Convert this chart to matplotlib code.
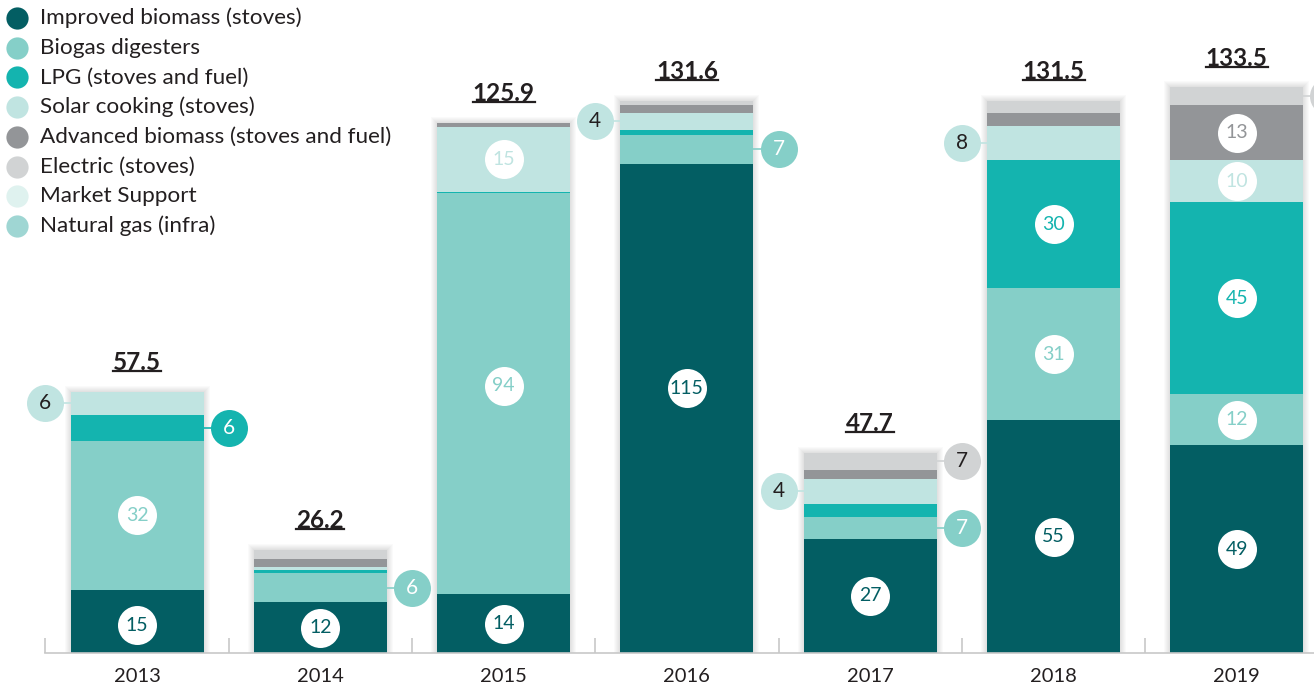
import matplotlib
matplotlib.use('Agg')
import matplotlib.pyplot as plt
import matplotlib.transforms as mtransforms
from matplotlib.lines import Line2D
import numpy as np

# ---------------- data ----------------
years = ['2013', '2014', '2015', '2016', '2017', '2018', '2019']
series_names = ['Improved biomass (stoves)', 'Biogas digesters', 'LPG (stoves and fuel)',
                'Solar cooking (stoves)', 'Advanced biomass (stoves and fuel)',
                'Electric (stoves)', 'Market Support', 'Natural gas (infra)']
improved = [15.0, 12.1, 14.0, 116.2, 27.1, 55.3, 49.4]
biogas = [35.4, 6.9, 95.2, 6.9, 5.2, 31.4, 12.1]
lpg = [6.2, 0.6, 0.4, 1.2, 3.1, 30.4, 45.6]
solar = [5.5, 0.9, 15.4, 4.0, 6.0, 8.1, 10.0]
advanced = [0.0, 1.9, 1.0, 1.9, 2.1, 3.1, 13.0]
electric = [0.0, 2.1, 0.0, 1.0, 4.1, 2.9, 4.3]
market = [0, 0, 0, 0, 0, 0, 0]
natgas = [0, 0, 0, 0, 0, 0, 0]
totals = ['57.5', '26.2', '125.9', '131.6', '47.7', '131.5', '133.5']

# labels shown inside the bars (year index, series index, text, vertical pixel nudge)
inside_labels = [(0, 0, '15', -4), (0, 1, '32', 0), (1, 0, '12', 0), (2, 0, '14', 0),
                 (2, 1, '94', 8), (2, 3, '15', 0), (3, 0, '115', 20), (4, 0, '27', 0),
                 (5, 0, '55', 0), (5, 1, '31', 0), (5, 2, '30', 0), (6, 0, '49', 0),
                 (6, 1, '12', 0), (6, 2, '45', 0), (6, 3, '10', 0), (6, 4, '13', 0)]
# labels shown beside the bars (year index, series index, text, side)
outside_labels = [(0, 3, '6', -1), (0, 2, '6', 1), (1, 1, '6', 1), (3, 3, '4', -1),
                  (3, 1, '7', 1), (4, 3, '4', -1), (4, 5, '7', 1), (4, 1, '7', 1),
                  (5, 3, '8', -1), (6, 5, '', 1)]

series = [improved, biogas, lpg, solar, advanced, electric, market, natgas]
colors = ['#035e63', '#85cfc8', '#14b4af', '#c0e4e1', '#939598', '#d1d3d4', '#dff2ef', '#9fd6d3']
outside_text_colors = ['white', 'white', 'white', '#231f20', 'white', '#231f20', '#231f20', '#231f20']

FONT = 'Lato'
W, H = 1314, 691
fig = plt.figure(figsize=(W / 100, H / 100), dpi=100)
base_px = 38
ax = fig.add_axes([0, base_px / H, 1, (H - base_px) / H])
px_per_unit = 4.21
spacing_px = 183.3
center0_px = 137
XLIM = (-center0_px / spacing_px, (W - center0_px) / spacing_px)
YLIM = (0, (H - base_px) / px_per_unit)

x = np.arange(len(years))
bw = 133 / spacing_px
data = np.array(series, dtype=float)
cum = np.vstack([np.zeros(len(years)), np.cumsum(data, axis=0)])
tops = cum[-1]

# soft shadow
ux = 1 / spacing_px
uy = 1 / px_per_unit
for k in range(1, 7):
    ax.bar(x, tops + k * uy, width=bw + 2 * k * ux, bottom=0, color='black',
           alpha=0.018, zorder=1, linewidth=0)

for i, vals in enumerate(series):
    ax.bar(x, vals, bottom=cum[i], width=bw, color=colors[i], zorder=2, linewidth=0)

# inside labels
r_in = 19.5
for (yi, si, txt, nudge) in inside_labels:
    ymid = cum[si][yi] + data[si][yi] / 2 + nudge / px_per_unit
    ax.scatter([x[yi]], [ymid], s=(2 * r_in * 0.72) ** 2, color='white', zorder=5,
               linewidths=0)
    ax.text(x[yi], ymid, txt, ha='center', va='center', fontsize=14, family=FONT,
            color=colors[si], zorder=6)

# outside labels
r_out = 18.5
for (yi, si, txt, side) in outside_labels:
    ymid = cum[si][yi] + data[si][yi] / 2
    cx = x[yi] + side * 0.5
    ax.plot([cx, x[yi] + side * bw / 2], [ymid, ymid], color=colors[si], lw=1.2,
            zorder=3, clip_on=False)
    ax.scatter([cx], [ymid], s=(2 * r_out * 0.72) ** 2, color=colors[si], zorder=5,
               linewidths=0, clip_on=False)
    ax.text(cx, ymid, txt, ha='center', va='center', fontsize=15, family=FONT,
            color=outside_text_colors[si], zorder=6)

# totals
total_texts = []
for i, t in enumerate(totals):
    a = ax.annotate(t, (x[i], tops[i]), xytext=(0, 29), textcoords='offset pixels',
                    ha='center', va='center', fontsize=17.5, fontweight='bold',
                    family=FONT, color='#231f20', zorder=6)
    total_texts.append(a)

# axes styling
for s in ['top', 'right', 'left']:
    ax.spines[s].set_visible(False)
ax.spines['bottom'].set_color('#c8c8c8')
ax.spines['bottom'].set_linewidth(1.2)
ax.set_yticks([])
ax.set_xticks(x)
ax.set_xticklabels(years, fontsize=14.5, family=FONT, color='#231f20')
ax.tick_params(axis='x', which='major', length=0, pad=11)
ax.set_xticks(np.arange(-0.5, len(years), 1.0), minor=True)
ax.tick_params(axis='x', which='minor', direction='in', length=11, color='#c8c8c8',
               width=1.2)
ax.set_xlim(*XLIM)
ax.set_ylim(*YLIM)
ax.spines['bottom'].set_bounds(-0.5, XLIM[1])
ax.set_facecolor('none')

# legend (manual)
leg_y0 = 18
leg_dy = 29.7
for i, name in enumerate(series_names):
    yy = 1 - (leg_y0 + i * leg_dy) / H
    fig.add_artist(Line2D([17 / W], [yy], marker='o', markersize=16, color=colors[i],
                          markeredgewidth=0, transform=fig.transFigure))
    fig.text(40 / W, yy, name, ha='left', va='center', fontsize=16.2, family=FONT,
             color='#231f20')

# underline totals
fig.canvas.draw()
renderer = fig.canvas.get_renderer()
for a in total_texts:
    bb = a.get_window_extent(renderer)
    yl = bb.y0 + 3
    fig.add_artist(Line2D([bb.x0, bb.x1], [yl, yl], color='#231f20', lw=1.6,
                          transform=mtransforms.IdentityTransform()))

fig.savefig('out.png', dpi=100)
